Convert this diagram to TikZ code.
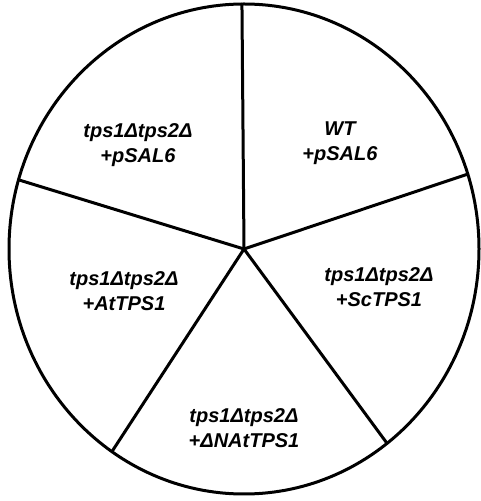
\documentclass[tikz,border=0pt]{standalone}
\usepackage{fontspec}
\newfontfamily\piefont{Liberation Sans}
\usetikzlibrary{calc}

\begin{document}
\begin{tikzpicture}[x=1pt, y=1pt,
    lbl/.style={font=\piefont\bfseries\itshape\fontsize{20}{25}\selectfont,
                align=center, inner sep=0pt},
    rim/.style={line width=3pt},
    spoke/.style={line width=3pt, line cap=round}
  ]
    \useasboundingbox (0,0) rectangle (481,501);
    \coordinate (c) at (244,252);
    \draw[rim] (c) ellipse [x radius=235, y radius=245];

    % spoke ends on the rim
    \foreach \t/\n in {90.5/top, 163.6/ul, 235.8/ll, 307.5/lr, 17.8/ur}
      \coordinate (\n) at ($(c)+({235*cos(\t)},{245*sin(\t)})$);
    \foreach \n in {top, ul, ll, lr, ur}
      \draw[spoke] (c) -- (\n);

    \node[lbl] (ctl) at (138,356) {tps1Δtps2Δ\\+pSAL6};
    \node[lbl] (wt) at (340,358) {WT\\+pSAL6};
    \node[lbl] (sc) at (379,214) {tps1Δtps2Δ\\+ScTPS1};
    \node[lbl] (at) at (124,210) {tps1Δtps2Δ\\+AtTPS1};
    \node[lbl] (dna) at (244,73) {tps1Δtps2Δ\\+ΔNAtTPS1};
  \end{tikzpicture}
\end{document}
